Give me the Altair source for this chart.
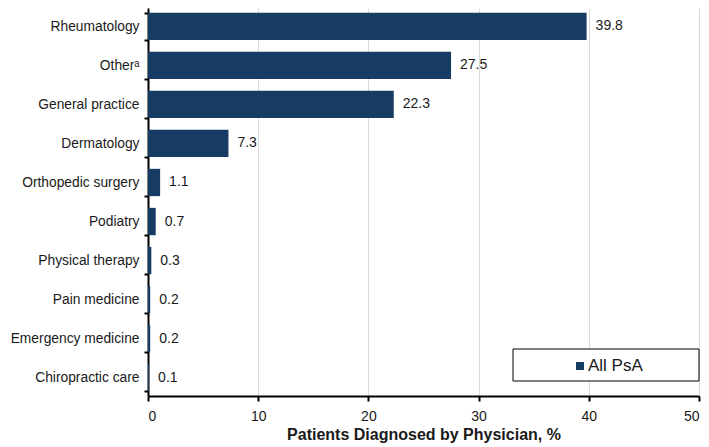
import altair as alt
import pandas as pd

categories = ["Rheumatology", "Otherᵃ", "General practice", "Dermatology",
              "Orthopedic surgery", "Podiatry", "Physical therapy",
              "Pain medicine", "Emergency medicine", "Chiropractic care"]
values = [39.8, 27.5, 22.3, 7.3, 1.1, 0.7, 0.3, 0.2, 0.2, 0.1]
x_ticks = [0, 10, 20, 30, 40, 50]
series_name = "All PsA"

df = pd.DataFrame({"cat": categories, "val": values})
BAR = "#163c64"
TXT = "#1a1a1a"
FONT = "Liberation Sans"
W, H = 551, 388

y_enc = alt.Y("cat:N", sort=categories, title=None,
              scale=alt.Scale(paddingInner=0.3, paddingOuter=0.12),
              axis=alt.Axis(tickBand="extent", domainColor="black", domainWidth=2,
                            tickColor="black", tickWidth=2, tickSize=4,
                            labelFontSize=13.8, labelColor=TXT, labelPadding=5,
                            labelFont=FONT, labelLimit=200))
x_enc = alt.X("val:Q", title="Patients Diagnosed by Physician, %",
              scale=alt.Scale(domain=[0, 50], nice=False),
              axis=alt.Axis(values=x_ticks, grid=True, gridColor="#d9d9d9",
                            domainColor="black", domainWidth=2, tickColor="black",
                            tickWidth=2, tickSize=5, labelFontSize=14,
                            labelColor=TXT, labelPadding=8,
                            labelFont=FONT,
                            titleFont=FONT, titleFontSize=16,
                            titleFontWeight="bold", titleColor=TXT,
                            titlePadding=3))

bars = alt.Chart(df).mark_bar(color=BAR).encode(x=x_enc, y=y_enc)
labels = alt.Chart(df).mark_text(align="left", dx=9, fontSize=14,
                                 font=FONT, color=TXT).encode(
    x="val:Q", y=alt.Y("cat:N", sort=categories), text=alt.Text("val:Q", format=".1f"))

leg_df = pd.DataFrame({"name": [series_name]})
leg_box = alt.Chart(leg_df).mark_rect(fill="white", stroke="black", strokeWidth=1).encode(
    x=alt.value(365), x2=alt.value(551), y=alt.value(341), y2=alt.value(373))
leg_sym = alt.Chart(leg_df).mark_square(color=BAR, size=64, opacity=1).encode(
    x=alt.value(432), y=alt.value(358))
leg_txt = alt.Chart(leg_df).mark_text(align="left", baseline="middle", fontSize=17,
                                      font=FONT, color=TXT).encode(
    x=alt.value(440), y=alt.value(358), text="name:N")

chart = alt.layer(bars, labels, leg_box, leg_sym, leg_txt).properties(
    width=W, height=H,
    autosize=alt.AutoSizeParams(type="none"),
    padding={"left": 140, "top": 0, "right": 2, "bottom": 50},
).configure_view(stroke=None)

chart.save("out.html", embed_options={"renderer": "svg", "actions": False})
